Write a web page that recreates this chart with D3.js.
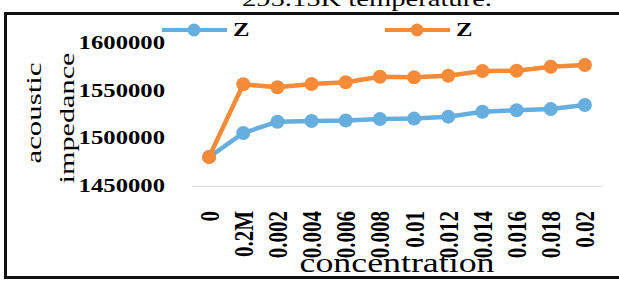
<!DOCTYPE html>
<html>
<head>
<meta charset="utf-8">
<script src="https://cdn.jsdelivr.net/npm/d3@7"></script>
<style>
    html, body { margin: 0; padding: 0; background: white; overflow: hidden; }
    svg { display: block; }
</style>
</head>
<body>
<script>
const categories = ["0", "0.2M", "0.002", "0.004", "0.006", "0.008", "0.01", "0.012", "0.014", "0.016", "0.018", "0.02"];
const blueValues = [1481000, 1506300, 1518200, 1519000, 1519500, 1521000, 1521500, 1523500, 1528700, 1530200, 1531500, 1535800];
const orangeValues = [1481000, 1557600, 1554400, 1557900, 1559700, 1565600, 1564900, 1566600, 1571600, 1571900, 1576100, 1577900];
const yTicks = [1450000, 1500000, 1550000, 1600000];
const seriesNames = ["Z", "Z"];

const W = 619, H = 281;
const SX = 1.3; // picture is stretched sideways
const serif = "'Liberation Serif', 'DejaVu Serif', serif";
const blue = "#66aedd";
const orange = "#f58b38";

const svg = d3.select("body").append("svg")
    .attr("width", W)
    .attr("height", H);

// frame
svg.append("rect")
    .attr("x", 5.5).attr("y", 13.5)
    .attr("width", 700).attr("height", 264)
    .attr("fill", "none")
    .attr("stroke", "#111")
    .attr("stroke-width", 3);

// title, cut off at the top
svg.append("text")
    .attr("transform", `translate(367,6) scale(${SX},1)`)
    .attr("text-anchor", "middle")
    .attr("font-family", serif)
    .attr("font-size", 22)
    .text("295.15K temperature.");

const x = d3.scaleBand().domain(categories).range([192, 602]);
const y = d3.scaleLinear().domain([1450000, 1600000]).range([186.5, 44]);
const cx = d => x(d) + x.bandwidth() / 2;

// axis line
svg.append("line")
    .attr("x1", 192).attr("x2", 602)
    .attr("y1", y(1450000)).attr("y2", y(1450000))
    .attr("stroke", "#d9d9d9")
    .attr("stroke-width", 1.2);

// y tick labels
svg.selectAll(".ytick")
    .data(yTicks)
    .enter().append("text")
    .attr("class", "ytick")
    .attr("transform", d => `translate(165,${y(d) - 1}) scale(${SX},1)`)
    .attr("text-anchor", "end")
    .attr("dominant-baseline", "central")
    .attr("font-family", serif)
    .attr("font-weight", "bold")
    .attr("font-size", 19)
    .text(d => d);

// x tick labels
svg.selectAll(".xtick")
    .data(categories)
    .enter().append("text")
    .attr("class", "xtick")
    .attr("transform", d => `translate(${cx(d)},211) scale(${SX},1) rotate(-90)`)
    .attr("text-anchor", "end")
    .attr("dominant-baseline", "central")
    .attr("font-family", serif)
    .attr("font-weight", "bold")
    .attr("font-size", 21)
    .text(d => d);

// axis titles
svg.append("text")
    .attr("x", 33).attr("y", 113)
    .attr("transform", "rotate(-90,33,113)")
    .attr("text-anchor", "middle")
    .attr("dominant-baseline", "central")
    .attr("font-family", serif)
    .attr("font-size", 22)
    .attr("textLength", 101)
    .attr("lengthAdjust", "spacingAndGlyphs")
    .text("acoustic");

svg.append("text")
    .attr("x", 66).attr("y", 118)
    .attr("transform", "rotate(-90,66,118)")
    .attr("text-anchor", "middle")
    .attr("dominant-baseline", "central")
    .attr("font-family", serif)
    .attr("font-size", 22)
    .attr("textLength", 131)
    .attr("lengthAdjust", "spacingAndGlyphs")
    .text("impedance");

svg.append("text")
    .attr("x", 397).attr("y", 272)
    .attr("text-anchor", "middle")
    .attr("font-family", serif)
    .attr("font-size", 27)
    .attr("textLength", 195)
    .attr("lengthAdjust", "spacingAndGlyphs")
    .text("concentration");

// series
const line = d3.line()
    .x((d, i) => cx(categories[i]))
    .y(d => y(d));

const drawSeries = (values, color) => {
    svg.append("path")
        .attr("d", line(values))
        .attr("fill", "none")
        .attr("stroke", color)
        .attr("stroke-width", 4.5)
        .attr("stroke-linejoin", "round");

    svg.append("g").selectAll("circle")
        .data(values)
        .enter().append("circle")
        .attr("cx", (d, i) => cx(categories[i]))
        .attr("cy", d => y(d))
        .attr("r", 7)
        .attr("fill", color);
};

drawSeries(blueValues, blue);
drawSeries(orangeValues, orange);

// legend
const legend = [
    { name: seriesNames[0], color: blue, x1: 162 },
    { name: seriesNames[1], color: orange, x1: 385 }
];
legend.forEach(l => {
    svg.append("line")
        .attr("x1", l.x1).attr("x2", l.x1 + 65)
        .attr("y1", 30).attr("y2", 30)
        .attr("stroke", l.color)
        .attr("stroke-width", 4);
    svg.append("circle")
        .attr("cx", l.x1 + 32).attr("cy", 30)
        .attr("r", 6.5)
        .attr("fill", l.color);
    svg.append("text")
        .attr("transform", `translate(${l.x1 + 71},30) scale(${SX},1)`)
        .attr("dominant-baseline", "central")
        .attr("font-family", serif)
        .attr("font-weight", "bold")
        .attr("font-size", 19)
        .text(l.name);
});
</script>
</body>
</html>
